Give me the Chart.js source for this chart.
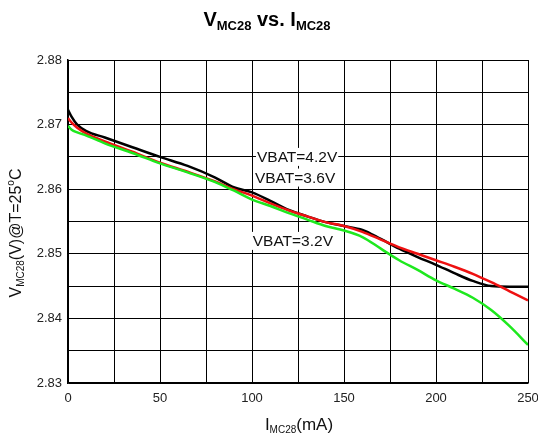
<!DOCTYPE html>
<html>
<head>
<meta charset="utf-8">
<script src="https://cdn.jsdelivr.net/npm/chart.js@4.4.1/dist/chart.umd.min.js"></script>
<style>
  html, body { margin: 0; padding: 0; background: #fff; }
  canvas { display: block; }
</style>
</head>
<body>
<canvas id="chart" width="538" height="433"></canvas>
<script>
// I_MC28 in mA
const currents = [0, 2, 5, 10, 20, 35, 50, 65, 80, 90, 100, 110, 120, 130, 140, 150, 160, 170, 180, 190, 200, 210, 220, 230, 240, 250];
const vbat42 = [2.8723, 2.8712, 2.8700, 2.8690, 2.8680, 2.8665, 2.8650, 2.8636, 2.8618, 2.8603, 2.8595, 2.8582, 2.8568, 2.8558, 2.8549, 2.8543, 2.8537, 2.8523, 2.8508, 2.8495, 2.8483, 2.8470, 2.8458, 2.8450, 2.8449, 2.8449];
const vbat36 = [2.8710, 2.8703, 2.8695, 2.8686, 2.8674, 2.8658, 2.8641, 2.8627, 2.8612, 2.8600, 2.8590, 2.8578, 2.8567, 2.8558, 2.8549, 2.8543, 2.8534, 2.8522, 2.8510, 2.8500, 2.8490, 2.8480, 2.8469, 2.8456, 2.8442, 2.8428];
const vbat32 = [2.8698, 2.8692, 2.8688, 2.8683, 2.8671, 2.8656, 2.8640, 2.8626, 2.8611, 2.8598, 2.8584, 2.8574, 2.8563, 2.8553, 2.8543, 2.8536, 2.8526, 2.8508, 2.8490, 2.8475, 2.8459, 2.8446, 2.8432, 2.8413, 2.8388, 2.8359];
const seriesNames = ['VBAT=3.2V', 'VBAT=3.6V', 'VBAT=4.2V'];
// curve labels: [text, mA at left edge, volts at middle]
const curveLabels = [
  ['VBAT=4.2V', 102.7, 2.8650],
  ['VBAT=3.6V', 101.6, 2.8618],
  ['VBAT=3.2V', 100.4, 2.8520]
];

const FONT = 'Arial, "Liberation Sans", sans-serif';

function pts(ys) {
  return currents.map((x, i) => ({ x: x, y: ys[i] }));
}

// draws text made of pieces, some of them sub/superscript
function richText(ctx, parts, x, y, weight) {
  let total = 0;
  parts.forEach(p => {
    ctx.font = weight + ' ' + p[1] + 'px ' + FONT;
    p.w = ctx.measureText(p[0]).width;
    total += p.w;
  });
  let cx = x - total / 2;
  ctx.textAlign = 'left';
  ctx.textBaseline = 'alphabetic';
  parts.forEach(p => {
    ctx.font = weight + ' ' + p[1] + 'px ' + FONT;
    ctx.fillText(p[0], cx, y + (p[2] || 0));
    cx += p.w;
  });
}

const textPlugin = {
  id: 'texts',
  beforeDatasetsDraw(chart) {
    const ctx = chart.ctx;
    const xs = chart.scales.x, ys = chart.scales.y;
    ctx.save();
    ctx.font = '15.5px ' + FONT;
    ctx.textBaseline = 'middle';
    ctx.textAlign = 'left';
    curveLabels.forEach(l => {
      const px = xs.getPixelForValue(l[1]);
      const py = ys.getPixelForValue(l[2]);
      const w = ctx.measureText(l[0]).width;
      ctx.fillStyle = '#fff';
      ctx.fillRect(px - 1, py - 9, w + 2, 18);
      ctx.fillStyle = '#111';
      ctx.fillText(l[0], px, py + 1);
    });
    ctx.restore();
  },
  afterDraw(chart) {
    const ctx = chart.ctx;
    ctx.save();
    ctx.fillStyle = '#000';
    richText(ctx, [['V', 20], ['MC28', 13, 4], [' vs. I', 20], ['MC28', 13, 4]], 267, 26, 'bold');
    ctx.fillStyle = '#111';
    richText(ctx, [['I', 17], ['MC28', 10, 3], ['(mA)', 17]], 299, 430, 'normal');
    ctx.translate(21, 233);
    ctx.rotate(-Math.PI / 2);
    richText(ctx, [['V', 16], ['MC28', 10, 3], ['(V)@T=25', 16], ['o', 10, -7], ['C', 16]], 0, 0, 'normal');
    ctx.restore();
  }
};

new Chart(document.getElementById('chart'), {
  type: 'line',
  data: {
    datasets: [
      { label: seriesNames[0], data: pts(vbat32), borderColor: '#1ee81e', borderWidth: 2.5 },
      { label: seriesNames[1], data: pts(vbat36), borderColor: '#ee1111', borderWidth: 2.5 },
      { label: seriesNames[2], data: pts(vbat42), borderColor: '#000000', borderWidth: 2.5 }
    ]
  },
  options: {
    responsive: false,
    animation: false,
    elements: { point: { radius: 0 }, line: { cubicInterpolationMode: 'monotone', fill: false } },
    layout: { padding: { top: 60, right: 10, left: 0, bottom: 0 } },
    plugins: { legend: { display: false }, tooltip: { enabled: false } },
    scales: {
      x: {
        type: 'linear', min: 0, max: 250,
        afterFit: s => { s.height = 50; s.paddingLeft = 0; s.paddingRight = 0; },
        grid: { color: '#000', lineWidth: 1, drawTicks: false },
        border: { color: '#000', width: 1.5 },
        ticks: {
          stepSize: 25, padding: 8, color: '#222', maxRotation: 0,
          font: { family: FONT, size: 13 },
          callback: v => (v % 50 === 0 ? String(v) : '')
        }
      },
      y: {
        min: 2.83, max: 2.88,
        afterFit: s => { s.width = 68; s.paddingTop = 0; s.paddingBottom = 0; },
        grid: { color: '#000', lineWidth: 1, drawTicks: false },
        border: { color: '#000', width: 1.5 },
        ticks: {
          stepSize: 0.005, padding: 6, color: '#222',
          font: { family: FONT, size: 13 },
          callback: v => (Math.round(v * 1000) % 10 === 0 ? v.toFixed(2) : '')
        }
      }
    }
  },
  plugins: [textPlugin]
});
</script>
</body>
</html>
